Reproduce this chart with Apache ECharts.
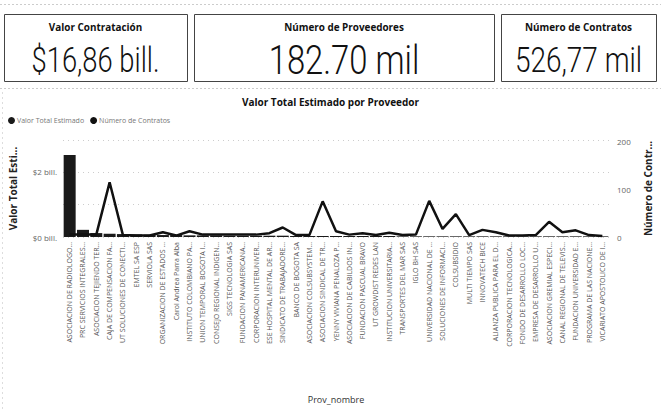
<!DOCTYPE html>
<html>
<head>
<meta charset="utf-8">
<script src="https://cdn.jsdelivr.net/npm/echarts@6/dist/echarts.min.js"></script>
<style>
html,body{margin:0;padding:0;background:#fff;}
#c{width:661px;height:415px;}
</style>
</head>
<body>
<div id="c"></div>
<script>
// ---- data ----
const kpiTitles = ["Valor Contratación", "Número de Proveedores", "Número de Contratos"];
const kpiValues = ["$16,86 bill.", "182.70 mil", "526,77 mil"];

const proveedores = [
  "ASOCIACION DE RADIOLOGO...", "PRC SERVICIOS INTEGRALES...", "ASOCIACION TEJIENDO TER...",
  "CAJA DE COMPENSACION FA...", "UT SOLUCIONES DE CONECTI...", "EMTEL SA ESP", "SERVIOLA SAS",
  "ORGANIZACION DE ESTADOS ...", "Carol Andrea Parra Alba", "INSTITUTO COLOMBIANO PA...",
  "UNION TEMPORAL BOGOTA I...", "CONSEJO REGIONAL INDIGEN...", "SIGS TECNOLOGIA SAS",
  "FUNDACION PANAMERICANA...", "CORPORACION INTERUNIVER...", "ESE HOSPITAL MENTAL DE AR...",
  "SINDICATO DE TRABAJADORE...", "BANCO DE BOGOTA SA", "ASOCIACION COLSUBSYSTEM...",
  "ASOCIACION SINDICAL DE TR...", "YENNY VIVIANA PENALOZA P...", "ASOCIACION DE CABILDOS IN...",
  "FUNDACION PASCUAL BRAVO", "UT GROWDIST REDES LAN", "INSTITUCION UNIVERSITARIA...",
  "TRANSPORTES DEL MAR SAS", "IGLO BH SAS", "UNIVERSIDAD NACIONAL DE ...",
  "SOLUCIONES DE INFORMACI...", "COLSUBSIDIO", "MULTI TIEMPO SAS", "INNOVATECH BICE",
  "ALIANZA PUBLICA PARA EL D...", "CORPORACION TECNOLOGICA...", "FONDO DE DESARROLLO LOC...",
  "EMPRESA DE DESARROLLO U...", "ASOCIACION GREMIAL ESPECI...", "CANAL REGIONAL DE TELEVIS...",
  "FUNDACION UNIVERSIDAD E...", "PROGRAMA DE LAS NACIONE...", "VICARIATO APOSTOLICO DE I..."
];

// Valor Total Estimado (bill.)
const valorTotal = [
  2.52, 0.22, 0.12, 0.10, 0.09, 0.08, 0.07, 0.06, 0.06, 0.05,
  0.05, 0.05, 0.04, 0.04, 0.04, 0.04, 0.04, 0.03, 0.03, 0.03,
  0.03, 0.03, 0.03, 0.03, 0.03, 0.02, 0.02, 0.02, 0.02, 0.02,
  0.02, 0.02, 0.02, 0.02, 0.02, 0.02, 0.02, 0.02, 0.02, 0.02, 0.02
];

// Número de Contratos
const numContratos = [
  5, 5, 5, 115, 4, 3, 3, 10, 3, 12,
  5, 5, 5, 5, 5, 8, 20, 4, 4, 75,
  12, 5, 8, 4, 9, 4, 5, 76, 17, 48,
  4, 15, 10, 3, 3, 4, 32, 10, 14, 4, 2
];

const leftTicks = [0, 2];
const rightTicks = [0, 100, 200];

// ---- chart ----
const chart = echarts.init(document.getElementById('c'), null, {renderer: 'svg'});
const FONT = "'Open Sans', 'Noto Sans', sans-serif";
const NUMFONT = "'Roboto', 'Liberation Sans', sans-serif";

const cards = [
  {x: 4, w: 183, size: 36, sx: 0.76},
  {x: 194, w: 300, size: 40, sx: 0.82},
  {x: 501, w: 155, size: 35, sx: 0.8}
];
const graphics = [];
cards.forEach((c, i) => {
  graphics.push({
    type: 'rect', shape: {x: c.x + 0.5, y: 14.5, width: c.w, height: 67},
    style: {fill: '#fff', stroke: '#444', lineWidth: 1}
  });
  graphics.push({
    type: 'text', x: c.x + c.w / 2, y: 27, scaleX: 0.9,
    style: {text: kpiTitles[i], font: "bold 11px " + FONT, fill: '#111', textAlign: 'center', textVerticalAlign: 'middle'}
  });
  graphics.push({
    type: 'text', x: c.x + c.w / 2, y: 60, scaleX: c.sx,
    style: {text: kpiValues[i], font: "300 " + c.size + "px " + NUMFONT, fill: '#111', textAlign: 'center', textVerticalAlign: 'middle'}
  });
});
// faint scan lines
graphics.push({type: 'line', shape: {x1: 0, y1: 4.5, x2: 661, y2: 4.5}, style: {stroke: '#ccc', lineWidth: 1, lineDash: [2, 2]}});
graphics.push({type: 'line', shape: {x1: 0, y1: 88.5, x2: 661, y2: 88.5}, style: {stroke: '#ccc', lineWidth: 1, lineDash: [2, 2]}});
graphics.push({type: 'line', shape: {x1: 2.5, y1: 92, x2: 2.5, y2: 410}, style: {stroke: '#ddd', lineWidth: 1, lineDash: [2, 3]}});

chart.setOption({
  animation: false,
  backgroundColor: '#fff',
  textStyle: {fontFamily: FONT},
  title: {
    text: 'Valor Total Estimado por Proveedor',
    left: 'center', top: 92,
    textStyle: {fontSize: 10, fontWeight: 'bold', color: '#111', fontFamily: FONT}
  },
  legend: {
    left: 3, top: 112, itemWidth: 7, itemHeight: 7, itemGap: 6,
    icon: 'circle',
    textStyle: {fontSize: 7, color: '#777', fontFamily: FONT, padding: [0, 0, 0, -3]},
    data: ['Valor Total Estimado', 'Número de Contratos']
  },
  grid: {left: 61, right: 42, top: 140, bottom: 178},
  xAxis: {
    type: 'category',
    data: proveedores,
    name: 'Prov_nombre',
    nameLocation: 'middle',
    nameGap: 158,
    nameTextStyle: {fontSize: 9, color: '#333', fontFamily: FONT},
    axisLine: {show: false},
    axisTick: {show: false},
    axisLabel: {rotate: 90, interval: 0, fontSize: 7, color: '#555', margin: 5, fontFamily: FONT}
  },
  yAxis: [
    {
      type: 'value', min: 0, max: 2.98, interval: 1,
      name: 'Valor Total Esti...', nameLocation: 'middle', nameGap: 45, nameRotate: 90,
      nameTextStyle: {fontSize: 10, fontWeight: 'bold', color: '#222', fontFamily: FONT},
      axisLine: {show: false}, axisTick: {show: false},
      axisLabel: {
        fontSize: 8, color: '#666', margin: 6,
        formatter: v => leftTicks.indexOf(v) >= 0 ? '$' + v + ' bill.' : ''
      },
      splitLine: {show: true, lineStyle: {color: '#ccc', type: [1, 4], width: 1}},
    },
    {
      type: 'value', min: 0, max: 204, interval: 100,
      name: 'Número de Contr...', nameLocation: 'middle', nameGap: 34, nameRotate: 90,
      nameTextStyle: {fontSize: 10, fontWeight: 'bold', color: '#222', fontFamily: FONT},
      axisLine: {show: false}, axisTick: {show: false},
      axisLabel: {
        fontSize: 8, color: '#666', margin: 8,
        formatter: v => rightTicks.indexOf(v) >= 0 ? String(v) : ''
      },
      splitLine: {show: false}
    }
  ],
  series: [
    {
      name: 'Valor Total Estimado', type: 'bar', yAxisIndex: 0,
      data: valorTotal, barWidth: 12,
      itemStyle: {color: '#1a1a1a'}
    },
    {
      name: 'Número de Contratos', type: 'line', yAxisIndex: 1,
      data: numContratos, showSymbol: false, symbol: 'circle',
      lineStyle: {color: '#111', width: 2.5},
      itemStyle: {color: '#111'}
    }
  ],
  graphic: graphics
});
</script>
</body>
</html>
